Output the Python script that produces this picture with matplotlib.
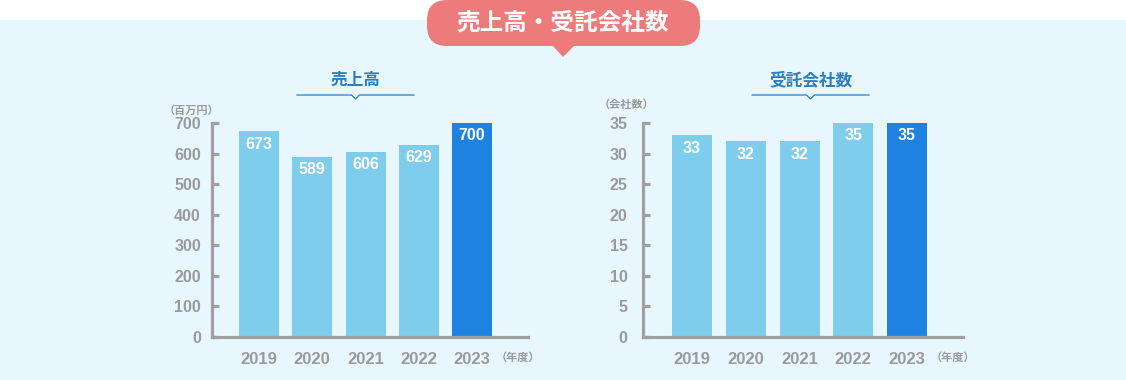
import matplotlib
matplotlib.use('Agg')
import matplotlib.pyplot as plt
from matplotlib.patches import FancyBboxPatch, Polygon, Rectangle

plt.rcParams['font.family'] = ['Liberation Sans', 'Noto Sans CJK JP', 'DejaVu Sans']

# data
years = ['2019', '2020', '2021', '2022', '2023']
sales = [673, 589, 606, 629, 700]          # 売上高 (百万円)
companies = [33, 32, 32, 35, 35]           # 受託会社数

title = '売上高・受託会社数'
sub_sales = '売上高'
sub_comp = '受託会社数'
unit_sales = '（百万円）'
unit_comp = '（会社数）'
year_unit = '（年度）'

W, H = 1126, 380
BG = '#e8f7fe'
LIGHT = '#7fcdec'
DARK = '#1e82e0'
GRAY = '#a0a0a0'
TXT = '#9a9a9a'
BLUE_TXT = '#2a7fc0'
PINK = '#ee7b7b'
JP = ['Noto Sans CJK JP', 'DejaVu Sans']

fig = plt.figure(figsize=(W / 100, H / 100), dpi=100)
fig.patch.set_facecolor('white')

# background / decoration layer in pixel coords
bg = fig.add_axes([0, 0, 1, 1], zorder=-1)
bg.set_xlim(0, W)
bg.set_ylim(H, 0)
bg.axis('off')
bg.add_patch(Rectangle((0, 20), W, H - 20, color=BG, lw=0))
bg.add_patch(FancyBboxPatch((427, 0), 273, 46, boxstyle='round,pad=0,rounding_size=20',
                            fc=PINK, ec='none'))
bg.add_patch(Polygon([(552, 45), (575, 45), (563, 57)], closed=True, fc=PINK, ec='none'))
bg.text(563, 23, title, ha='center', va='center', color='white', fontsize=17,
        fontweight='bold', family=JP)


def panel(x0, x1, vals, ymax, step, first_c, sub, unit, unit_x, unit_y, sub_x0, sub_x1, pad):
    top, bot = 123, 337
    ax = fig.add_axes([x0 / W, 1 - bot / H, (x1 - x0) / W, (bot - top) / H])
    ax.patch.set_alpha(0)
    spacing = (x1 - x0 - (first_c - x0) - 56) / 4
    lo = -(first_c - x0) / spacing
    hi = lo + (x1 - x0) / spacing
    colors = [LIGHT] * 4 + [DARK]
    ax.bar(range(len(vals)), vals, width=40 / spacing, color=colors, zorder=2)
    ax.set_xlim(lo, hi)
    ax.set_ylim(0, ymax)
    for s in ['top', 'right']:
        ax.spines[s].set_visible(False)
    for s in ['left', 'bottom']:
        ax.spines[s].set_color(GRAY)
        ax.spines[s].set_linewidth(2.3)
    ax.set_yticks(range(0, ymax + 1, step))
    ax.tick_params(axis='y', direction='in', length=5, width=2.3, color=GRAY,
                   labelcolor=TXT, labelsize=11.5, pad=pad)
    ax.set_xticks(range(len(vals)), years)
    ax.tick_params(axis='x', length=0, labelcolor=TXT, labelsize=12, pad=11)
    for lab in ax.get_xticklabels() + ax.get_yticklabels():
        lab.set_fontweight('bold')
    off = ymax * 13 / (bot - top)
    for i, v in enumerate(vals):
        ax.text(i, v - off, str(v), ha='center', va='center', color='white',
                fontsize=11.5, fontweight='bold')
    ax.text(len(vals) - 1 + 24 / spacing, -20 / (bot - top) * ymax, year_unit,
            ha='left', va='center', color=TXT, fontsize=8, fontweight='bold',
            family=JP, clip_on=False)
    # subtitle with underline and notch
    cx = (sub_x0 + sub_x1) / 2
    bg.text(cx, 80, sub, ha='center', va='center', color=BLUE_TXT, fontsize=12,
            fontweight='bold', family=JP)
    bg.plot([sub_x0, cx - 4, cx, cx + 4, sub_x1], [95, 95, 99, 95, 95], color=BLUE_TXT, lw=0.9)
    bg.text(unit_x, unit_y, unit, ha='center', va='center', color=TXT, fontsize=8,
            fontweight='bold', family=JP)
    return ax


panel(212, 528, sales, 700, 100, 259, sub_sales, unit_sales, 191, 110, 297, 414, 8)
panel(643, 963, companies, 35, 5, 692, sub_comp, unit_comp, 626, 104, 752, 869, 11)

fig.savefig('out.png', dpi=100, facecolor=fig.get_facecolor())
